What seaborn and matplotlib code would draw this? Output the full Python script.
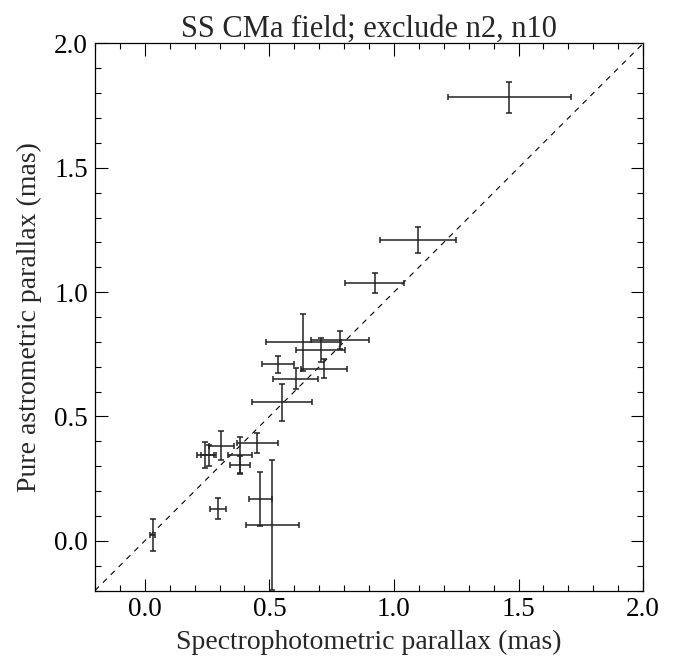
import numpy as np
import pandas as pd
import matplotlib
matplotlib.use("Agg")
import matplotlib.pyplot as plt
from matplotlib.ticker import MultipleLocator
import seaborn as sns

# Spectrophotometric vs pure astrometric parallax (mas)
spec_plx = [1.463, 1.095, 0.922, 0.636, 0.784, 0.706, 0.720, 0.535, 0.606, 0.551,
            0.306, 0.242, 0.256, 0.383, 0.383, 0.451, 0.294, 0.464, 0.512, 0.031]
spec_err = [0.246, 0.153, 0.117, 0.151, 0.115, 0.099, 0.092, 0.065, 0.090, 0.119,
            0.050, 0.034, 0.030, 0.048, 0.041, 0.082, 0.031, 0.047, 0.105, 0.011]
astr_plx = [1.783, 1.209, 1.035, 0.798, 0.807, 0.767, 0.692, 0.710, 0.652, 0.557,
            0.383, 0.345, 0.343, 0.345, 0.304, 0.392, 0.129, 0.169, 0.064, 0.022]
astr_err = [0.062, 0.052, 0.040, 0.115, 0.037, 0.050, 0.039, 0.035, 0.042, 0.074,
            0.060, 0.053, 0.042, 0.071, 0.035, 0.040, 0.043, 0.109, 0.262, 0.064]

axis_range = [-0.2, 2.0]

df = pd.DataFrame({"spec": spec_plx, "spec_err": spec_err,
                   "astr": astr_plx, "astr_err": astr_err})

sns.set_style("ticks")
plt.rcParams["font.family"] = ["Liberation Serif", "DejaVu Serif"]

fig = plt.figure(figsize=(6.73, 6.60), dpi=100)
ax = fig.add_axes([0.1412, 0.1053, 0.8143, 0.8288])

# one-to-one line
sns.lineplot(x=axis_range, y=axis_range, ax=ax, color="black", lw=0.8,
             linestyle=(0, (5, 5)))

# error crosses, no markers
ax.errorbar(df["spec"], df["astr"], xerr=df["spec_err"], yerr=df["astr_err"],
            fmt="none", ecolor="#222222", elinewidth=1.1, capsize=2.2, capthick=1.1)

ax.set_xlim(axis_range)
ax.set_ylim(axis_range)

ax.xaxis.set_major_locator(MultipleLocator(0.5))
ax.xaxis.set_minor_locator(MultipleLocator(0.1))
ax.yaxis.set_major_locator(MultipleLocator(0.5))
ax.yaxis.set_minor_locator(MultipleLocator(0.1))
ax.xaxis.set_major_formatter(matplotlib.ticker.FormatStrFormatter("%.1f"))
ax.yaxis.set_major_formatter(matplotlib.ticker.FormatStrFormatter("%.1f"))

ax.tick_params(which="both", direction="in", top=True, right=True,
               width=0.8, color="black", labelsize=19.5, labelcolor="black")
ax.tick_params(which="major", length=9, pad=5)
ax.tick_params(which="minor", length=4.5)
for s in ax.spines.values():
    s.set_linewidth(0.9)
    s.set_color("black")

ax.set_title("SS CMa field; exclude n2, n10", fontsize=22, pad=5)
ax.set_xlabel("Spectrophotometric parallax (mas)", fontsize=20, labelpad=5)
ax.set_ylabel("Pure astrometric parallax (mas)", fontsize=20, labelpad=9)

fig.savefig("out.png", dpi=100)
